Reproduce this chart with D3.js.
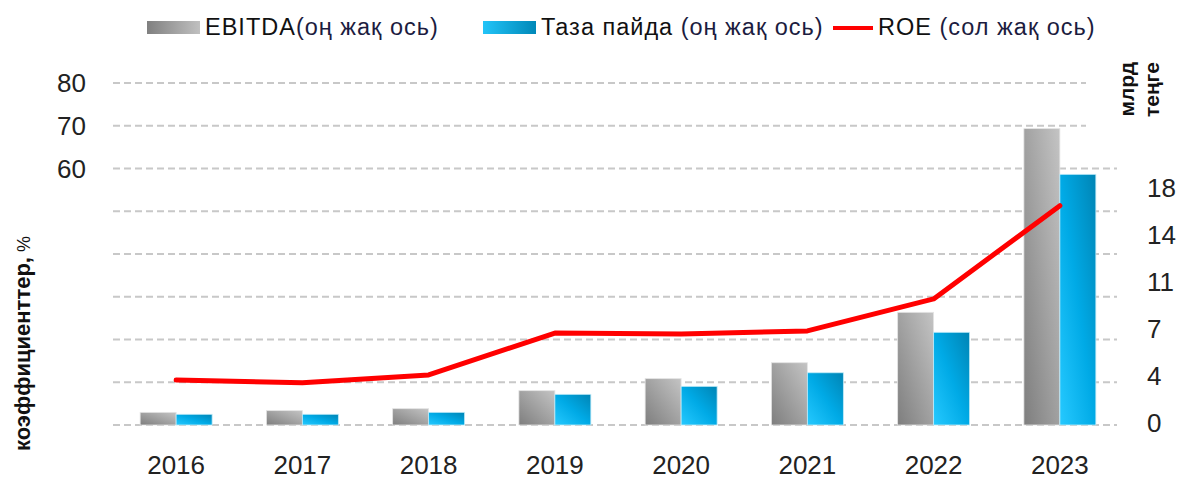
<!DOCTYPE html>
<html>
<head>
<meta charset="utf-8">
<script src="https://cdn.jsdelivr.net/npm/d3@7"></script>
<style>
  body { margin: 0; background: #fff; }
  svg { display: block; font-family: "Liberation Sans", Arial, sans-serif; }
</style>
</head>
<body>
<svg></svg>
<script>
const years = ["2016", "2017", "2018", "2019", "2020", "2021", "2022", "2023"];
const ebitda = [0.97, 1.1, 1.25, 2.63, 3.55, 4.77, 8.63, 22.7];   // right axis, млрд теңге
const taza = [0.82, 0.82, 0.97, 2.35, 2.96, 4.0, 7.1, 19.2];      // right axis
const roe = [10.5, 9.9, 11.7, 21.5, 21.3, 22.0, 29.5, 51.3];      // left axis, %
const leftTicks = [0, 10, 20, 30, 40, 50, 60, 70, 80];
const leftLabels = [60, 70, 80];
const rightTicks = [0, 3.6, 7.2, 10.8, 14.4, 18];

const width = 1177, height = 479;
const svg = d3.select("svg").attr("width", width).attr("height", height);

const x = d3.scaleBand().domain(years).range([113, 1123]).paddingInner(0.43).paddingOuter(0.215);
const x1 = d3.scaleBand().domain(["ebitda", "taza"]).range([0, x.bandwidth()]);
const yL = d3.scaleLinear().domain([0, 80]).range([425, 83]);
const yR = d3.scaleLinear().domain([0, 18]).range([425, 190]);

// gradients
const defs = svg.append("defs");
function grad(id, x2, y1, stops) {
    const g = defs.append("linearGradient").attr("id", id)
        .attr("x1", 0).attr("y1", y1).attr("x2", x2).attr("y2", 0);
    stops.forEach(s => g.append("stop").attr("offset", s[0]).attr("stop-color", s[1]));
}
grad("gGray", 1, 1, [[0, "#7e7e7e"], [1, "#c4c4c4"]]);
grad("gBlue", 1, 1, [[0, "#26c9ff"], [0.5, "#00aae6"], [1, "#0084b4"]]);
grad("gGrayH", 1, 0, [[0, "#808080"], [1, "#c0c0c0"]]);
grad("gBlueH", 1, 0, [[0, "#22c4f8"], [1, "#0088b8"]]);

// gridlines
svg.append("g").selectAll("line")
    .data(leftTicks)
    .join("line")
    .attr("x1", 113)
    .attr("x2", d => d >= 70 ? 1086 : 1117)
    .attr("y1", d => yL(d)).attr("y2", d => yL(d))
    .attr("stroke", "#c8c8c8")
    .attr("stroke-width", 2)
    .attr("stroke-dasharray", "7,4");

// bars
const groups = svg.append("g").selectAll("g")
    .data(years)
    .join("g")
    .attr("transform", d => `translate(${x(d)},0)`);

groups.append("rect")
    .attr("x", x1("ebitda"))
    .attr("width", x1.bandwidth())
    .attr("y", (d, i) => yR(ebitda[i]))
    .attr("height", (d, i) => yR(0) - yR(ebitda[i]))
    .attr("fill", "url(#gGray)")
    .attr("stroke", "#e4e4e4").attr("stroke-width", 0.8);

groups.append("rect")
    .attr("x", x1("taza"))
    .attr("width", x1.bandwidth())
    .attr("y", (d, i) => yR(taza[i]))
    .attr("height", (d, i) => yR(0) - yR(taza[i]))
    .attr("fill", "url(#gBlue)")
    .attr("stroke", "#bfeaf8").attr("stroke-width", 0.8);

// ROE line
const line = d3.line()
    .x((d, i) => x(years[i]) + x.bandwidth() / 2)
    .y(d => yL(d));
svg.append("path")
    .datum(roe)
    .attr("d", line)
    .attr("fill", "none")
    .attr("stroke", "#ff0000")
    .attr("stroke-width", 5)
    .attr("stroke-linejoin", "round")
    .attr("stroke-linecap", "round");

// x axis labels
svg.append("g").selectAll("text")
    .data(years)
    .join("text")
    .attr("x", d => x(d) + x.bandwidth() / 2)
    .attr("y", 474)
    .attr("text-anchor", "middle")
    .attr("font-size", "26px")
    .attr("fill", "#222")
    .text(d => d);

// left labels
svg.append("g").selectAll("text")
    .data(leftLabels)
    .join("text")
    .attr("x", 86)
    .attr("y", d => yL(d) + 9)
    .attr("text-anchor", "end")
    .attr("font-size", "26px")
    .attr("fill", "#222")
    .text(d => d);

// right labels
svg.append("g").selectAll("text")
    .data(rightTicks)
    .join("text")
    .attr("x", 1147)
    .attr("y", d => yR(d) + 7)
    .attr("text-anchor", "start")
    .attr("font-size", "26px")
    .attr("fill", "#222")
    .text(d => d3.format(".0f")(d));

// axis titles
const lt = svg.append("text")
    .attr("transform", "translate(30,451) rotate(-90)")
    .attr("font-size", "22px")
    .attr("font-weight", "bold")
    .attr("fill", "#111");
lt.append("tspan").text("коэффициенттер,");
lt.append("tspan").attr("font-weight", "normal").attr("font-size", "18px").text(" %");

svg.append("text")
    .attr("transform", "translate(1134,62) rotate(-90)")
    .attr("text-anchor", "end")
    .attr("font-size", "21px")
    .attr("font-weight", "bold")
    .attr("fill", "#111")
    .text("млрд");
svg.append("text")
    .attr("transform", "translate(1159,62) rotate(-90)")
    .attr("text-anchor", "end")
    .attr("font-size", "21px")
    .attr("font-weight", "bold")
    .attr("fill", "#111")
    .text("теңге");

// legend
const legend = svg.append("g").attr("font-size", "23.5px").attr("letter-spacing", "1px").attr("fill", "#111");
legend.append("rect").attr("x", 147).attr("y", 21).attr("width", 53).attr("height", 13).attr("fill", "url(#gGrayH)");
const t1 = legend.append("text").attr("x", 205).attr("y", 35);
t1.append("tspan").text("EBITDA");
t1.append("tspan").attr("fill", "#1c1c40").text("(оң жақ ось)");
legend.append("rect").attr("x", 483).attr("y", 21).attr("width", 53).attr("height", 13).attr("fill", "url(#gBlueH)");
const t2 = legend.append("text").attr("x", 541).attr("y", 35);
t2.append("tspan").text("Таза пайда ");
t2.append("tspan").attr("fill", "#1c1c40").text("(оң жақ ось)");
legend.append("line").attr("x1", 833).attr("x2", 873).attr("y1", 28).attr("y2", 28)
    .attr("stroke", "#ff0000").attr("stroke-width", 4);
const t3 = legend.append("text").attr("x", 878).attr("y", 35);
t3.append("tspan").text("ROE ");
t3.append("tspan").attr("fill", "#1c1c40").text("(сол жақ ось)");
</script>
</body>
</html>
